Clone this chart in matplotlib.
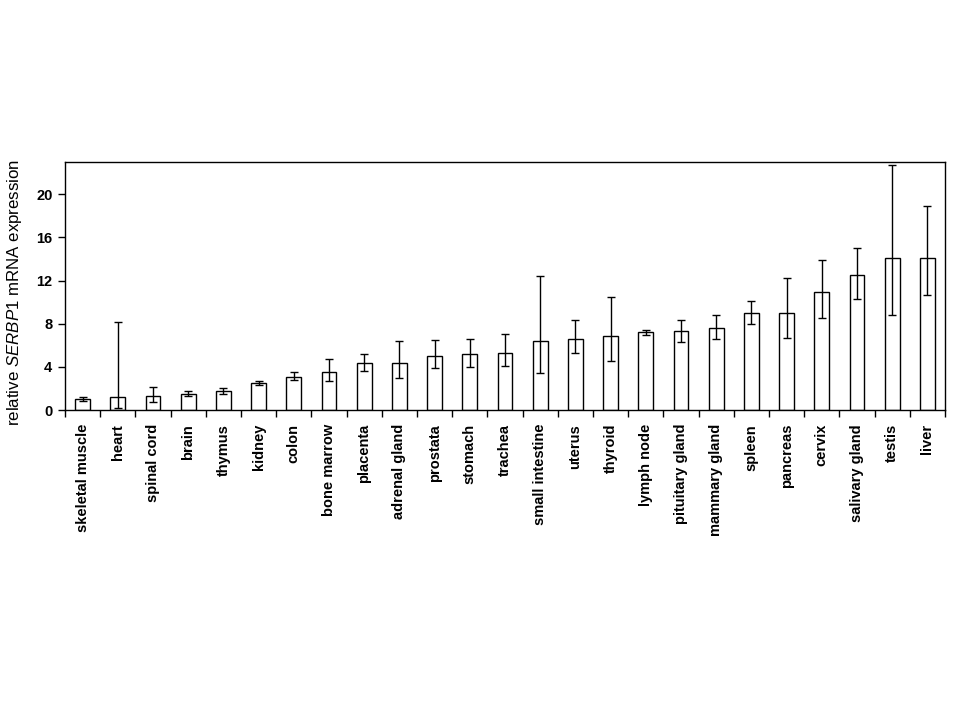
import matplotlib
matplotlib.use("Agg")
import matplotlib.pyplot as plt
import numpy as np

plt.rcParams['font.family'] = ['Liberation Sans', 'DejaVu Sans']
plt.rcParams['mathtext.fontset'] = 'custom'
plt.rcParams['mathtext.it'] = 'Liberation Sans:italic'
plt.rcParams['mathtext.rm'] = 'Liberation Sans'

tissues = ["skeletal muscle", "heart", "spinal cord", "brain", "thymus", "kidney",
           "colon", "bone marrow", "placenta", "adrenal gland", "prostata", "stomach",
           "trachea", "small intestine", "uterus", "thyroid", "lymph node",
           "pituitary gland", "mammary gland", "spleen", "pancreas", "cervix",
           "salivary gland", "testis", "liver"]
means = [0.99, 1.17, 1.27, 1.45, 1.73, 2.47, 3.03, 3.49, 4.33, 4.33, 4.98, 5.16,
         5.29, 6.37, 6.55, 6.83, 7.20, 7.30, 7.57, 8.96, 8.96, 10.91, 12.49, 14.10, 14.10]
err_upper = [1.17, 8.19, 2.16, 1.73, 2.01, 2.66, 3.49, 4.70, 5.16, 6.37, 6.46, 6.55,
             7.02, 12.40, 8.32, 10.45, 7.39, 8.32, 8.78, 10.08, 12.21, 13.88, 14.99, 22.72, 18.89]
err_lower = [0.80, 0.15, 0.71, 1.27, 1.45, 2.29, 2.75, 2.66, 3.59, 2.94, 3.86, 3.96,
             4.05, 3.40, 5.26, 4.51, 6.92, 6.28, 6.55, 7.94, 6.65, 8.50, 10.26, 8.81, 10.63]
yticks = [0, 4, 8, 12, 16, 20]

fig = plt.figure(figsize=(9.6, 7.2), dpi=100)
ax = fig.add_axes([65/960, 1-410/720, 880/960, 248/720])

x = np.arange(len(tissues))
m = np.array(means)
yerr = np.vstack([m - np.array(err_lower), np.array(err_upper) - m])
ax.bar(x, m, width=0.42, color='white', edgecolor='black', linewidth=1.0, zorder=2)
ax.errorbar(x, m, yerr=yerr, fmt='none', ecolor='black', elinewidth=1.0,
            capsize=3, capthick=1.0, zorder=3)

ax.set_xlim(-0.5, len(tissues) - 0.5)
ax.set_ylim(0, 23)
ax.set_yticks(yticks)
ax.set_yticklabels([str(v) for v in yticks], fontsize=10.5, fontweight='bold')
ax.set_xticks(x)
ax.set_xticklabels(tissues, rotation=90, fontsize=10.5, fontweight='bold')
ax.tick_params(axis='x', which='major', length=0, pad=10)
ax.set_xticks(np.arange(len(tissues) + 1) - 0.5, minor=True)
ax.tick_params(axis='x', which='minor', length=5, width=1, direction='out')
ax.tick_params(axis='y', length=5, width=1, direction='out', pad=4)
for s in ax.spines.values():
    s.set_linewidth(1.0)

ax.set_ylabel(r'relative $\mathit{SERBP1}$ mRNA expression', fontsize=12.2, labelpad=6)
ax.yaxis.set_label_coords(-0.047, 0.476)

fig.savefig("out.png", dpi=100, facecolor='white')
